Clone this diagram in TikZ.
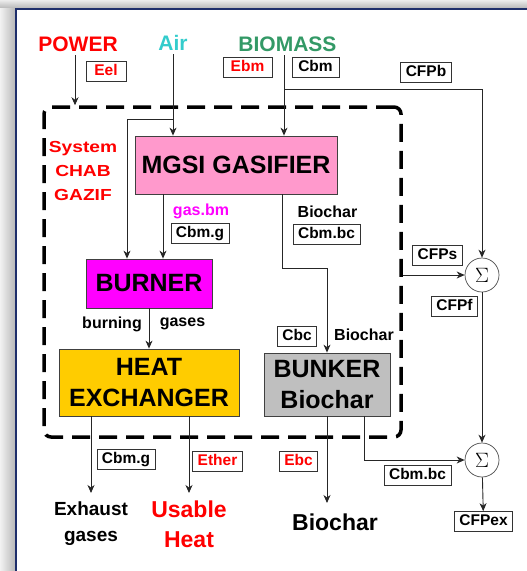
\documentclass[tikz,border=0pt]{standalone}
\usepackage{fontspec}
\setmainfont{Liberation Sans}
\newfontfamily\widefont[FakeStretch=1.2]{Liberation Sans}
\usetikzlibrary{arrows.meta}

\definecolor{panelblue}{HTML}{1F2F6B}
\definecolor{gaspink}{HTML}{FF99CC}
\definecolor{burnmag}{HTML}{FF00FF}
\definecolor{hxgold}{HTML}{FFCC00}
\definecolor{bunkgray}{HTML}{BFBFBF}
\definecolor{airblue}{HTML}{33CCCC}
\definecolor{biogreen}{HTML}{339966}

\tikzset{
  unit/.style={draw=black!75, line width=0.8pt, inner sep=3pt,
    font=\fontsize{25}{31}\selectfont\bfseries},
  tag/.style={draw=black!80, fill=white, line width=0.7pt, inner xsep=5pt, inner ysep=2.5pt,
    text height=11.5pt, text depth=3.5pt, font=\fontsize{15.5}{16}\selectfont\bfseries},
  redtag/.style={tag, text=red},
  sumnode/.style={circle, draw=black!70, line width=0.7pt, fill=white, minimum size=34pt,
    inner sep=0pt, font=\fontsize{20}{20}\selectfont},
  source/.style={font=\fontsize{21}{21}\selectfont\bfseries},
  flowtxt/.style={font=\fontsize{16}{16}\selectfont\bfseries},
  sysbox/.style={draw, line width=3.5pt, dash pattern=on 18pt off 9pt, rounded corners=7pt}
}

\begin{document}
\begin{tikzpicture}[x=1pt,y=-1pt,>={Stealth[length=8pt,width=7pt,inset=2.5pt]}]
\useasboundingbox (0,0) rectangle (527,571);
% frame and shadow
\shade[top color=gray!15, bottom color=gray!55] (0,0) rectangle (527,8);
\shade[left color=gray!10, right color=gray!55] (0,8) rectangle (15,571);
\draw[panelblue, line width=2pt] (15.5,571) -- (15.5,8.5) -- (527,8.5);

% system boundary
\node[sysbox, minimum width=357pt, minimum height=330pt] (sys) at (222.5,272) {};

% sources
\node[source, text=red] (power) at (78,44) {POWER};
\node[source, text=airblue] (air) at (173,43) {Air};
\node[source, text=biogreen] (bio) at (287.5,44.5) {BIOMASS};

% units
\node[unit, fill=gaspink, minimum width=202pt, minimum height=58pt] (gas) at (236,165) {MGSI GASIFIER};
\node[unit, fill=burnmag, minimum width=126pt, minimum height=49pt] (burner) at (149,283.5) {BURNER};
\node[unit, fill=hxgold, minimum width=180pt, minimum height=67pt, align=center] (hx) at (149,382.5) {HEAT\\EXCHANGER};
\node[unit, fill=bunkgray, minimum width=126pt, minimum height=63pt, align=center] (bunker) at (327,384.5) {BUNKER\\Biochar};

\node[text=red, align=center, font=\widefont\fontsize{16}{24}\selectfont\bfseries] (sysname) at (83,171) {System\\CHAB\\GAZIF};

% sums
\node[sumnode] (sig1) at (482,275) {$\Sigma$};
\node[sumnode] (sig2) at (482,460) {$\Sigma$};

% tags
\node[redtag, minimum width=40pt] (eel) at (106,71) {Eel};
\node[redtag, minimum width=49pt] (ebm) at (247.5,67.5) {Ebm};
\node[tag, minimum width=47pt] (cbm) at (315.5,67.5) {Cbm};
\node[tag] (cfpb) at (426,72.5) {CFPb};
\node[tag] (cbmg) at (200,233.5) {Cbm.g};
\node[tag] (cbmbc) at (326.5,234) {Cbm.bc};
\node[tag] (cfps) at (437.5,255) {CFPs};
\node[tag] (cfpf) at (454.5,306) {CFPf};
\node[tag] (cbc) at (297,336.5) {Cbc};
\node[tag] (cbmgout) at (126,459.5) {Cbm.g};
\node[redtag] (ether) at (217.5,461.5) {Ether};
\node[redtag] (ebc) at (298.5,461.5) {Ebc};
\node[tag] (cbmbcout) at (417.5,475.5) {Cbm.bc};
\node[tag] (cfpex) at (483.5,521.5) {CFPex};

% flow labels
\node[flowtxt, text=burnmag] (gasbm) at (201,211) {gas.bm};
\node[flowtxt] (bcgas) at (327.5,212) {Biochar};
\node[flowtxt] (burning) at (112,324) {burning};
\node[flowtxt] (gases) at (182.5,324) {gases};
\node[flowtxt] (bcbunk) at (364,335) {Biochar};

% outputs
\node[anchor=north, inner ysep=8.5pt, align=center, font=\fontsize{19}{26}\selectfont\bfseries] (exh) at (91,493) {Exhaust\\gases};
\node[anchor=north, inner ysep=8pt, align=center, text=red, font=\fontsize{23}{30}\selectfont\bfseries] (heat) at (189,493) {Usable\\Heat};
\node[anchor=north, inner ysep=11pt, font=\fontsize{23}{23}\selectfont\bfseries] (bcout) at (335,503) {Biochar};

% connectors
\coordinate (airsplit) at (173,119);
\coordinate (biosplit) at (284,89);
\coordinate (bcturn) at (282,268);
\begin{scope}[black!85, line width=0.9pt]
\draw[->] ([xshift=-3pt]power.south) -- ([xshift=-3pt]power.south |- sys.north);
\draw[->] (air.south) -- (air.south |- gas.north);
\draw[->] (airsplit) -| ([xshift=-22pt]burner.north);
\draw[->] (bio.south -| biosplit) -- (biosplit |- gas.north);
\draw[->] (biosplit) -| (sig1.north);
\draw[->] ([xshift=-73pt]gas.south) -- ([xshift=14pt]burner.north);
\draw[->] (burner) -- (hx);
\draw[->] ([xshift=46pt]gas.south) -- (bcturn) -| (bunker.north);
\draw[->] (sys.east |- sig1) -- (sig1);
\draw[->] (sig1) -- (sig2);
\draw[->] ([xshift=37pt]bunker.south) |- (sig2);
\draw[->] (sig2) -- (cfpex);
\draw[->] (bunker.south) -- (bunker.south |- bcout.north);
\draw[->] (hx.south -| exh) -- (exh);
\draw[->] (hx.south -| heat) -- (heat);
\end{scope}
\end{tikzpicture}
\end{document}
